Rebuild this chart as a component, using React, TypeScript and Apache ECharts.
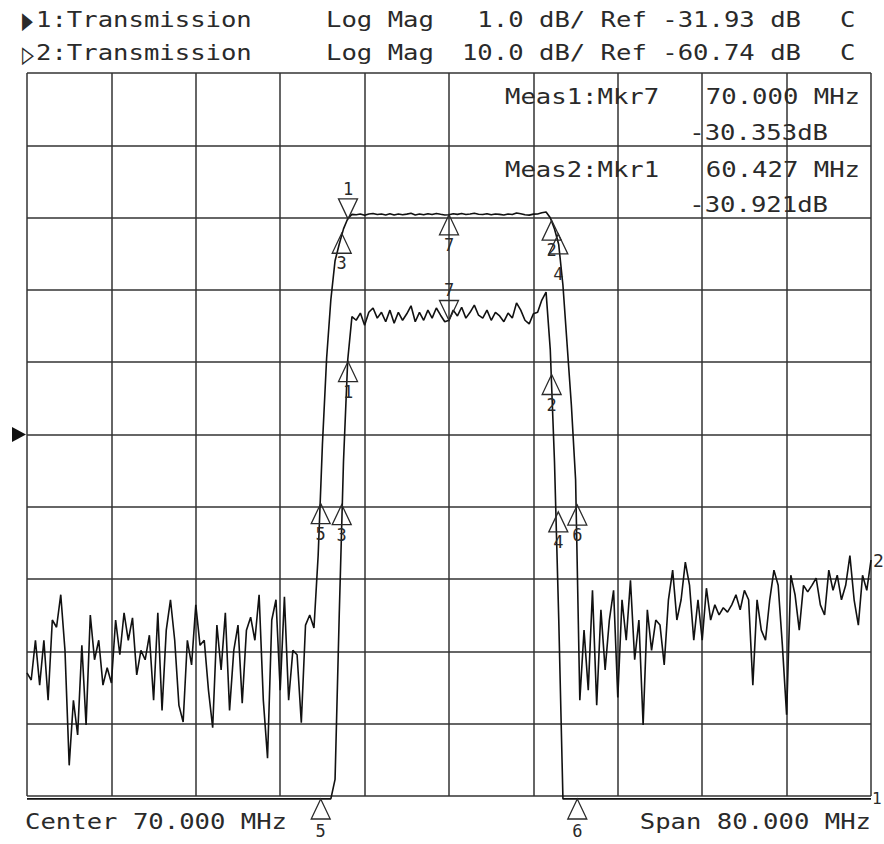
import React, { useEffect, useRef } from "react";
import * as echarts from "echarts";

// Sweep settings (network analyzer)
const START_MHZ = 30;
const STOP_MHZ = 110;
const POINTS = 201;

// Trace formats: dB per division and reference level (reference at centre line)
const T1_SCALE = 1.0;
const T1_REF = -31.93;
const T2_SCALE = 10.0;
const T2_REF = -60.74;
const DIVS = 10;
const REF_POS = 5;

// Measured |S21| (dB) – lower stopband, passband with skirts, upper stopband
const stopbandLow = [
  -93.7, -94.7, -89.2, -95.4, -89.2, -97.5, -86.4, -87.4, -82.9, -90.6,
  -106.5, -97.5, -102.3, -89.9, -100.9, -85.7, -91.9, -89.2, -95.4, -93.0,
  -95.1, -86.4, -91.2, -85.4, -89.2, -86.1, -94.0, -90.6, -91.9, -88.5,
  -97.5, -85.4, -98.9, -87.8, -83.6, -89.2, -98.2, -100.5, -89.2, -92.6,
  -84.3, -89.9, -89.2, -96.1, -101.3, -87.1, -93.3, -85.4, -98.9, -90.6,
  -87.1, -97.9, -87.8, -86.0, -89.2, -82.9, -97.5, -105.5, -86.4, -83.6,
  -96.1, -83.2, -97.5, -90.6, -91.2, -100.6, -87.1, -85.7, -87.5,
];
const passband = [
  -77.4, -62.2, -50.2, -42.1, -36.7, -34.4, -32.3, -30.9,
  -30.30, -30.35, -30.25, -30.42, -30.24, -30.18, -30.32, -30.24, -30.37, -30.21,
  -30.39, -30.24, -30.35, -30.26, -30.15, -30.37, -30.24, -30.35, -30.21, -30.32,
  -30.18, -30.28, -30.37, -30.35, -30.21, -30.29, -30.17, -30.32, -30.24, -30.14,
  -30.28, -30.32, -30.21, -30.35, -30.24, -30.29, -30.37, -30.25, -30.32, -30.11,
  -30.21, -30.35, -30.40, -30.26, -30.24, -30.07, -29.96, -30.76, -32.31, -34.47,
  -40.1, -48.4, -56.7, -67.0, -97.5,
];
const stopbandHigh = [
  -87.8, -96.1, -82.3, -98.2, -85.0, -93.3, -86.4, -82.3, -97.1, -83.6,
  -89.2, -80.9, -91.9, -86.4, -100.9, -85.0, -90.6, -86.4, -87.1, -92.6,
  -83.6, -79.5, -86.4, -83.6, -78.4, -81.6, -89.2, -83.6, -89.2, -82.0,
  -86.4, -84.3, -85.7, -84.7, -85.3, -84.3, -82.9, -85.0, -82.3, -83.6,
  -95.4, -83.6, -87.8, -89.2, -83.6, -79.5, -81.6, -89.9, -99.5, -80.2,
  -82.9, -87.8, -81.6, -82.5, -81.6, -80.6, -84.3, -85.7, -79.5, -82.3,
  -80.2, -83.6, -81.6, -77.5, -83.6, -87.1, -80.2, -82.3, -78.1,
];

// Markers (shared by both traces)
const markerIds = ["1", "2", "3", "4", "5", "6", "7"];
const markerFreqs = [60.427, 79.73, 59.83, 80.36, 57.84, 82.16, 70.0];
const markerVals = [-30.921, -31.1, -32.9, -33.0, -70.3, -70.5, -30.353];
const trace1Active = "7";
const trace2Active = "1";

const headerTexts = ["1:Transmission", "2:Transmission"];
const formatText = "Log Mag";

// Layout
const W = 884;
const H = 844;
const GRID_L = 27;
const GRID_T = 73;
const GRID_W = 844;
const GRID_H = 723;
const FONT = "'DejaVu Sans Mono', 'Liberation Mono', monospace";
const FS = 21;
const SX = 1.22;
const INK = "#2a2a2a";

const UP = "path://M9.5,0L19,20L0,20Z";
const DOWN = "path://M0,0L19,0L9.5,20Z";

export default function App() {
  const ref = useRef<HTMLDivElement>(null);

  useEffect(() => {
    if (!ref.current) return;
    const chart = echarts.init(ref.current, undefined, { renderer: "svg" });

    const s21 = [...stopbandLow, ...passband, ...stopbandHigh];
    const step = (STOP_MHZ - START_MHZ) / (POINTS - 1);
    const freqs = s21.map((_, i) => START_MHZ + i * step);

    const t1Min = T1_REF - REF_POS * T1_SCALE;
    const t1Max = T1_REF + (DIVS - REF_POS) * T1_SCALE;
    const t2Min = T2_REF - REF_POS * T2_SCALE;
    const t2Max = T2_REF + (DIVS - REF_POS) * T2_SCALE;
    // off-scale points are drawn just outside the graticule, as the analyzer does
    const under1 = 0.04 * T1_SCALE;
    const under2 = 0.04 * T2_SCALE;
    const clamp1 = (v: number) => Math.max(t1Min - under1, Math.min(t1Max, v));
    const clamp2 = (v: number) => Math.max(t2Min - under2, Math.min(t2Max, v));
    const pxPerDiv = GRID_H / DIVS;

    const markerData = (min: number, max: number, scale: number, active: string) =>
      markerIds.map((id, k) => {
        const isActive = id === active;
        const raw = markerVals[k];
        const v = Math.max(min, Math.min(max, raw));
        const extra = raw < min ? 3 : 0;
        // stack the label below a neighbouring upward marker that sits just above
        let stack = 0;
        if (!isActive) {
          markerIds.forEach((other, j) => {
            if (j === k || other === active) return;
            const ov = Math.max(min, Math.min(max, markerVals[j]));
            const dyPx = ((ov - v) / scale) * pxPerDiv;
            if (Math.abs(markerFreqs[j] - markerFreqs[k]) < 1 && dyPx > 0 && dyPx < 15) {
              stack = 10;
            }
          });
        }
        return {
          name: id,
          coord: [markerFreqs[k], v],
          symbol: isActive ? DOWN : UP,
          symbolSize: [19, 20],
          symbolOffset: [0, isActive ? -10 : 10 + extra],
          label: {
            show: true,
            formatter: id,
            position: isActive ? "top" : "bottom",
            distance: (extra ? 3 : 1) + stack,
            color: INK,
            fontFamily: FONT,
            fontSize: 17,
          },
        };
      });

    const mp = (min: number, max: number, scale: number, active: string) => ({
      silent: true,
      symbol: UP,
      itemStyle: { color: "rgba(0,0,0,0)", borderColor: INK, borderWidth: 1.3 },
      data: markerData(min, max, scale, active),
    });

    const txt = (
      text: string,
      x: number,
      y: number,
      align: string = "left",
      fontSize: number = FS,
      scaleX: number = SX
    ) => ({
      type: "text",
      x,
      y,
      scaleX,
      z: 100,
      silent: true,
      style: {
        text,
        fontSize,
        fontFamily: FONT,
        fill: INK,
        align,
        verticalAlign: "middle",
      },
    });

    const refY = GRID_T + (GRID_H * (DIVS - REF_POS)) / DIVS;
    const mk7 = markerIds.indexOf(trace1Active);
    const mk1 = markerIds.indexOf(trace2Active);
    const fmtF = (f: number) => `${f.toFixed(3)} MHz`;
    const fmtV = (v: number) => `${v.toFixed(3)}dB`;
    const center = (START_MHZ + STOP_MHZ) / 2;
    const span = STOP_MHZ - START_MHZ;

    const gridLine = { show: true, lineStyle: { color: "#333", width: 1.5 } };

    chart.setOption({
      animation: false,
      backgroundColor: "#ffffff",
      grid: { left: GRID_L, top: GRID_T, width: GRID_W, height: GRID_H, show: false },
      xAxis: [
        {
          type: "value",
          min: 0,
          max: DIVS,
          interval: 1,
          axisLine: { show: false },
          axisTick: { show: false },
          axisLabel: { show: false },
          splitLine: gridLine,
        },
        { type: "value", min: START_MHZ, max: STOP_MHZ, show: false, splitLine: { show: false } },
      ],
      yAxis: [
        {
          type: "value",
          min: 0,
          max: DIVS,
          interval: 1,
          axisLine: { show: false },
          axisTick: { show: false },
          axisLabel: { show: false },
          splitLine: gridLine,
        },
        { type: "value", min: t1Min, max: t1Max, show: false, splitLine: { show: false } },
        { type: "value", min: t2Min, max: t2Max, show: false, splitLine: { show: false } },
      ],
      series: [
        {
          name: "Trace 2",
          type: "line",
          xAxisIndex: 1,
          yAxisIndex: 2,
          data: freqs.map((f, i) => [f, clamp2(s21[i])]),
          showSymbol: false,
          silent: true,
          clip: false,
          lineStyle: { color: "#111", width: 1.6 },
          endLabel: {
            show: true,
            formatter: "2",
            distance: 2,
            color: INK,
            fontFamily: FONT,
            fontSize: 18,
          },
          markPoint: mp(t2Min, t2Max, T2_SCALE, trace2Active),
          z: 3,
        },
        {
          name: "Trace 1",
          type: "line",
          xAxisIndex: 1,
          yAxisIndex: 1,
          data: freqs.map((f, i) => [f, clamp1(s21[i])]),
          showSymbol: false,
          silent: true,
          clip: false,
          lineStyle: { color: "#111", width: 1.6 },
          endLabel: {
            show: true,
            formatter: "1",
            distance: 1,
            color: INK,
            fontFamily: FONT,
            fontSize: 16,
          },
          markPoint: mp(t1Min, t1Max, T1_SCALE, trace1Active),
          z: 4,
        },
      ],
      graphic: [
        txt("\u25B6", 22, 20, "left", 30, 0.6),
        txt(headerTexts[0], 36, 20),
        txt("\u25B7", 22, 53, "left", 30, 0.66),
        txt(headerTexts[1], 36, 53),
        txt(formatText, 326, 20),
        txt(formatText, 326, 53),
        txt(`${T1_SCALE.toFixed(1)} dB/ Ref ${T1_REF.toFixed(2)} dB`, 801, 20, "right"),
        txt(`${T2_SCALE.toFixed(1)} dB/ Ref ${T2_REF.toFixed(2)} dB`, 801, 53, "right"),
        txt("C", 840, 20),
        txt("C", 840, 53),
        txt(`Meas1:Mkr${trace1Active}`, 505, 96.5),
        txt(fmtF(markerFreqs[mk7]), 860, 96.5, "right"),
        txt(fmtV(markerVals[mk7]), 828, 132.5, "right"),
        txt(`Meas2:Mkr${trace2Active}`, 505, 170),
        txt(fmtF(markerFreqs[mk1]), 860, 170, "right"),
        txt(fmtV(markerVals[mk1]), 828, 205, "right"),
        txt(`Center ${center.toFixed(3)} MHz`, 25, 821.5),
        txt(`Span ${span.toFixed(3)} MHz`, 871, 822, "right"),
        {
          type: "polygon",
          silent: true,
          z: 100,
          shape: { points: [[12, refY - 7.5], [26, refY], [12, refY + 7.5]] },
          style: { fill: "#111" },
        },
      ],
    });

    return () => {
      chart.dispose();
    };
  }, []);

  return (
    <div
      ref={ref}
      style={{ position: "fixed", left: 0, top: 0, width: W, height: H, background: "#fff" }}
    />
  );
}
